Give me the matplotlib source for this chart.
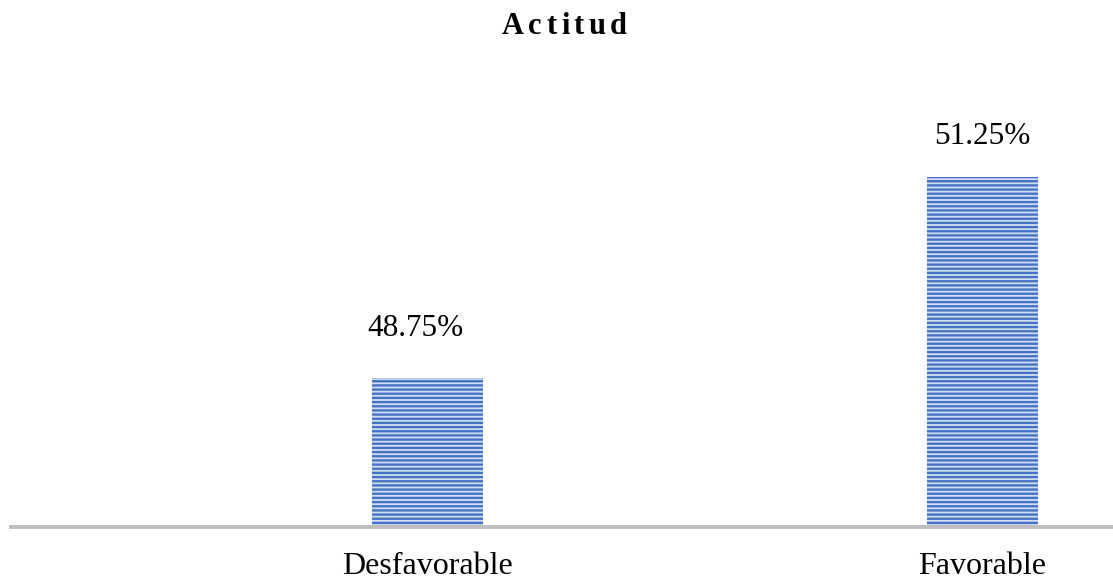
import numpy as np
import matplotlib
matplotlib.use("Agg")
from matplotlib import pyplot as plt

# Chart data
categories = ["Desfavorable", "Favorable"]
values = [48.75, 51.25]
value_labels = ["48.75%", "51.25%"]
title = "Actitud"

plt.rcParams["font.family"] = ["Liberation Serif", "DejaVu Serif"]
plt.rcParams["hatch.linewidth"] = 1.7

fig = plt.figure(figsize=(11.13, 5.84), dpi=100)
# axes spans from x=11px to the right edge, baseline at y=527px
ax = fig.add_axes([11 / 1113, (584 - 527) / 584, 1102 / 1113, 420 / 584])

x = np.arange(len(categories))
bars = ax.bar(x, values, width=0.2, color="#d2def3", edgecolor="#4472C4",
              hatch="----", linewidth=0, zorder=2)

ymin = 46.9
ax.set_ylim(ymin, ymin + 420 / 80.5)
ax.set_xlim(-0.751, 1.236)

# data labels, nudged like in the original
label_offsets = [(-12, 42), (0, 33)]
for xi, v, lab, off in zip(x, values, value_labels, label_offsets):
    ax.annotate(lab, xy=(xi, v), xytext=off, textcoords="offset pixels",
                ha="center", va="baseline", fontsize=22.5, color="#000000")

ax.set_xticks(x)
ax.set_xticklabels(categories, fontsize=23)
ax.tick_params(axis="x", length=0, pad=18)
ax.set_yticks([])
for side in ["top", "right", "left"]:
    ax.spines[side].set_visible(False)
ax.spines["bottom"].set_color("#BFBFBF")
ax.spines["bottom"].set_linewidth(2.8)

# letter-spaced bold title
renderer = fig.canvas.get_renderer()
widths = []
for ch in title:
    t = fig.text(0, 0, ch, fontsize=22, fontweight="bold")
    widths.append(t.get_window_extent(renderer).width)
    t.remove()
gap = (125 - sum(widths)) / (len(title) - 1)
xpos = 564.5 - 125 / 2
for ch, w in zip(title, widths):
    fig.text(xpos / 1113, 1 - 34 / 584, ch, ha="left", va="baseline",
             fontsize=22, fontweight="bold")
    xpos += w + gap

fig.savefig("out.png", dpi=100)
